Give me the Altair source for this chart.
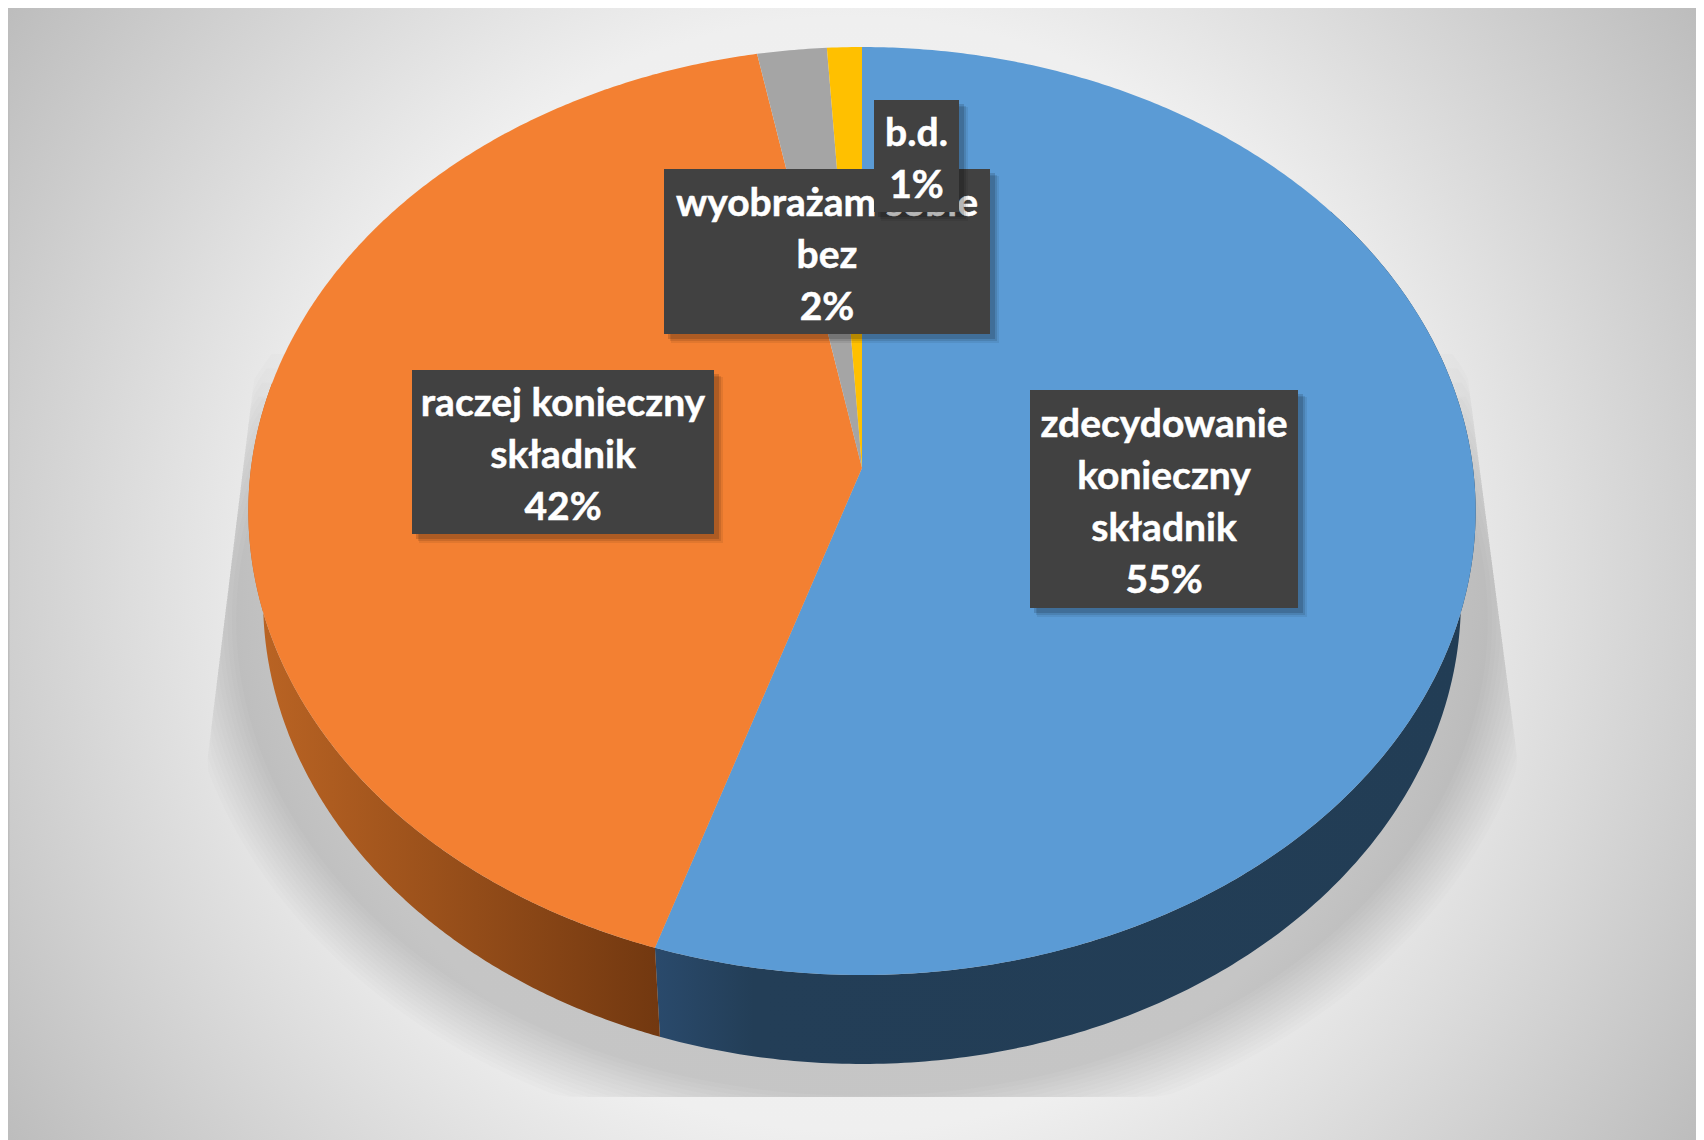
import numpy as np
import pandas as pd
import altair as alt

CATEGORIES = ["zdecydowanie konieczny składnik", "raczej konieczny składnik", "wyobrażam sobie bez", "b.d."]
VALUES = [55, 42, 2, 1]
FACE_COLORS = ["#5B9BD5", "#F38032", "#A5A5A5", "#FFC000"]
LABEL_LINES = ["zdecydowanie\nkonieczny\nskładnik\n55%", "raczej konieczny\nskładnik\n42%", "wyobrażam sobie\nbez\n2%", "b.d.\n1%"]
LABEL_X0 = [1030, 412, 664, 874]
LABEL_X1 = [1298, 714, 990, 959]
LABEL_Y0 = [390, 370, 169, 100]
LABEL_Y1 = [608, 534, 334, 212]

CX, APEX_Y, D, A, C = 862.0, 468.0, 611.0, 416.6, -0.0927
WALL_H, WALL_K = 89.0, 0.976
LINE_H = 52

X = alt.X("x:Q", scale=alt.Scale(domain=[8, 1696], nice=False, zero=False), axis=None)
Y = alt.Y("y:Q", scale=alt.Scale(domain=[1140, 8], nice=False, zero=False), axis=None)


def rim(pct0, pct1, bottom=False, n=240):
    t = np.radians(np.linspace(pct0, pct1, n) * 3.6)
    u, v = np.sin(t), -np.cos(t)
    den = 1 + C * v
    x = CX + D * u / den
    y = (APEX_Y + A * v) / den
    if bottom:
        x = CX + WALL_K * (x - CX)
        y = y + WALL_H
    return x, y


def polygon(xs, ys, fill, **kw):
    df = pd.DataFrame({"x": xs, "y": ys, "i": np.arange(len(xs))})
    return alt.Chart(df).mark_line(fill=fill, stroke="transparent", strokeWidth=0,
                                   interpolate="linear-closed", clip=False, **kw).encode(
        x=X, y=Y, order=alt.Order("i:Q"))


def box(x0, x1, y0, y1, **kw):
    df = pd.DataFrame({"x": [x0], "x2": [x1], "y": [y0], "y2": [y1]})
    return alt.Chart(df).mark_rect(**kw).encode(x=X, x2="x2:Q", y=Y, y2="y2:Q")


layers = []

# background
layers.append(box(8, 1696, 8, 1140, fill=alt.RadialGradient(
    gradient="radial", x1=0.5, y1=0.5, r1=0, x2=0.5, y2=0.5, r2=0.6,
    stops=[alt.GradientStop(offset=0, color="#F2F2F2"),
           alt.GradientStop(offset=0.55, color="#EFEFEF"),
           alt.GradientStop(offset=1, color="#BDBDBD")])))
layers.append(box(8, 9.5, 8, 1140, fill="#BDBDBD"))

# soft shadow under the pie
SH_STEPS = 14
for k in range(SH_STEPS):
    f = k / (SH_STEPS - 1)
    a, b = 682 - 56 * f, 532 - 56 * f
    t = np.linspace(0, 2 * np.pi, 240, endpoint=False)
    sx = CX + a * np.cos(t)
    sy = 620 + b * np.sin(t)
    keep = sy > 350 + 12 * k
    sx, sy = sx[keep], sy[keep]
    edge = np.clip((sy - 370) / 400, 0, 1)
    sx = np.minimum(sx, 1467 + 52 * edge)
    sx = np.maximum(sx, 255 - 49 * edge)
    sy = np.minimum(sy, 1097)
    order = np.argsort(np.arctan2(sy - 620, sx - CX))
    layers.append(polygon(sx[order], sy[order], "#000000", opacity=0.0135))

# side wall
p_blue = VALUES[0]
wall_orange = alt.LinearGradient(gradient="linear", x1=0, x2=1, y1=0, y2=0, stops=[
    alt.GradientStop(offset=0, color="#BC6524"),
    alt.GradientStop(offset=1, color="#723810")])
wall_blue = alt.LinearGradient(gradient="linear", x1=0, x2=1, y1=0, y2=0, stops=[
    alt.GradientStop(offset=0, color="#2A4A6C"),
    alt.GradientStop(offset=0.12, color="#233E57"),
    alt.GradientStop(offset=1, color="#223D55")])
tx, ty = rim(15, p_blue)
bx, by = rim(15, p_blue, bottom=True)
layers.append(polygon(np.r_[tx, bx[::-1]], np.r_[ty, by[::-1]], wall_blue))
tx, ty = rim(p_blue, 78)
bx, by = rim(p_blue, 78, bottom=True)
layers.append(polygon(np.r_[tx, bx[::-1]], np.r_[ty, by[::-1]], wall_orange))

# top face
start = 0.0
for value, color in zip(VALUES, FACE_COLORS):
    rx, ry = rim(start, start + value, n=max(8, value * 8))
    layers.append(polygon(np.r_[CX, rx], np.r_[APEX_Y, ry], color))
    start += value

# data labels
for name, text, x0, x1, y0, y1 in zip(CATEGORIES, LABEL_LINES, LABEL_X0, LABEL_X1, LABEL_Y0, LABEL_Y1):
    layers.append(box(x0 + 7, x1 + 9, y0 + 7, y1 + 9, fill="#000000", opacity=0.07))
    layers.append(box(x0 + 6, x1 + 7, y0 + 6, y1 + 7, fill="#000000", opacity=0.10))
    layers.append(box(x0 + 4, x1 + 5, y0 + 4, y1 + 5, fill="#000000", opacity=0.14))
    layers.append(box(x0, x1, y0, y1, fill="#414141"))
    n_lines = text.count("\n") + 1
    first_y = (y0 + y1) / 2 + 4 - (n_lines - 1) * LINE_H / 2
    lab = pd.DataFrame({"x": [(x0 + x1) / 2], "y": [first_y], "t": [text], "name": [name]})
    layers.append(alt.Chart(lab).mark_text(
        font="Lato", fontWeight="bold", fontSize=39, color="#FFFFFF", stroke="#FFFFFF", strokeWidth=0.5,
        lineBreak="\n", lineHeight=LINE_H, align="center", baseline="middle").encode(x=X, y=Y, text="t:N"))

chart = alt.layer(*layers).properties(
    width=1688, height=1132, padding=0,
    autosize=alt.AutoSizeParams(type="none"), background="#FFFFFF"
).configure_view(stroke=None)

chart.save("out.html", embed_options={"renderer": "svg", "actions": False})
